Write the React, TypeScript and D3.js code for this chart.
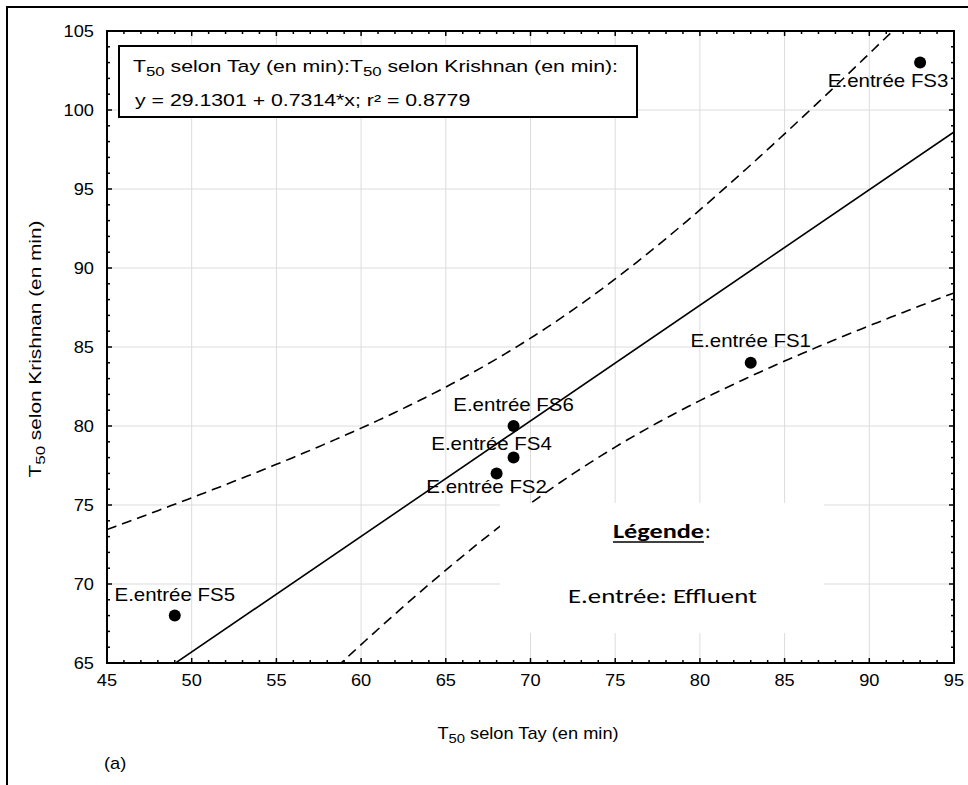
import React from 'react';
import * as d3 from 'd3';

const W = 968;
const H = 785;
const PL = 107, PT = 31, PR = 954, PB = 663;

const pointLabels = ['E.entrée FS1', 'E.entrée FS2', 'E.entrée FS3', 'E.entrée FS4', 'E.entrée FS5', 'E.entrée FS6'];
const tayValues = [83, 68, 93, 69, 49, 69];
const krishnanValues = [84, 77, 103, 78, 68, 80];
const xTickValues = [45, 50, 55, 60, 65, 70, 75, 80, 85, 90, 95];
const yTickValues = [65, 70, 75, 80, 85, 90, 95, 100, 105];
const regIntercept = 29.1301;
const regSlope = 0.7314;
const tCrit = 2.7764; // t(0.975, n-2=4)
const eqLine1a = ' selon Tay (en min):T';
const eqLine1b = ' selon Krishnan (en min):';
const eqLine2 = 'y = 29.1301 + 0.7314*x; r² = 0.8779';
const xTitle = ' selon Tay (en min)';
const yTitle = ' selon Krishnan (en min)';
const legendTitle = 'Légende';
const legendText = 'E.entrée: Effluent';
const panelLabel = '(a)';

// label placement (layout only)
const labelOffsets: [number, number][] = [[0, -16], [-10, 20], [-32, 24], [-22, -8], [0, -15], [0, -15]];

const FONT = 'Arial, "Liberation Sans", Helvetica, sans-serif';
const LFONT = "Carlito, Lato, 'Open Sans', sans-serif";

export default function App() {
  const x = d3.scaleLinear().domain([45, 95]).range([PL, PR]);
  const y = d3.scaleLinear().domain([65, 105]).range([PB, PT]);

  const n = tayValues.length;
  const mx = d3.mean(tayValues) as number;
  const sxx = d3.sum(tayValues, (v) => (v - mx) * (v - mx));
  const sse = d3.sum(tayValues, (v, i) => {
    const r = krishnanValues[i] - (regIntercept + regSlope * v);
    return r * r;
  });
  const s = Math.sqrt(sse / (n - 2));
  const fit = (v: number) => regIntercept + regSlope * v;
  const hw = (v: number) => tCrit * s * Math.sqrt(1 / n + ((v - mx) * (v - mx)) / sxx);
  const xs = d3.range(45, 95.001, 0.25);
  const upperPath = d3.line<number>().x((v) => x(v)).y((v) => y(fit(v) + hw(v)))(xs) as string;
  const lowerPath = d3.line<number>().x((v) => x(v)).y((v) => y(fit(v) - hw(v)))(xs) as string;
  const regPath = d3.line<number>().x((v) => x(v)).y((v) => y(fit(v)))([45, 95]) as string;

  const xMinor = d3.range(45, 95.001, 1);
  const yMinor = d3.range(65, 105.001, 1);
  const major = 5, minor = 3;

  return (
    <svg width={W} height={H} style={{ position: 'absolute', left: 0, top: 0, background: '#fff' }} fontFamily={FONT}>
      <rect x={0} y={0} width={W} height={H} fill="#fff" />
      {/* outer frame (left + top) */}
      <line x1={7} y1={6} x2={7} y2={H} stroke="#000" strokeWidth={2} />
      <line x1={6} y1={7} x2={W} y2={7} stroke="#000" strokeWidth={2} />

      <defs>
        <clipPath id="plotClip">
          <rect x={PL} y={PT} width={PR - PL} height={PB - PT} />
        </clipPath>
      </defs>

      {/* grid */}
      {xTickValues.slice(1, -1).map((v) => (
        <line key={'gx' + v} x1={x(v)} x2={x(v)} y1={PT} y2={PB} stroke="#dcdcdc" strokeWidth={1} />
      ))}
      {yTickValues.slice(1, -1).map((v) => (
        <line key={'gy' + v} x1={PL} x2={PR} y1={y(v)} y2={y(v)} stroke="#dcdcdc" strokeWidth={1} />
      ))}

      <g clipPath="url(#plotClip)">
        <path d={regPath} fill="none" stroke="#000" strokeWidth={1.6} />
        <path d={upperPath} fill="none" stroke="#000" strokeWidth={1.6} strokeDasharray="10,6" />
        <path d={lowerPath} fill="none" stroke="#000" strokeWidth={1.6} strokeDasharray="10,6" />
      </g>

      {/* legend white box */}
      <rect x={500} y={503} width={324} height={130} fill="#fff" />
      <text x={613} y={538} fontFamily={LFONT} fontWeight="bold" fontSize={21} textLength={91} lengthAdjust="spacingAndGlyphs">{legendTitle}</text>
      <line x1={613} x2={704} y1={542} y2={542} stroke="#000" strokeWidth={1.6} />
      <text x={705} y={538} fontFamily={LFONT} fontSize={21}>:</text>
      <text x={568} y={603} fontFamily={LFONT} fontWeight={400} fontSize={21} textLength={189} lengthAdjust="spacingAndGlyphs">{legendText}</text>

      {/* points */}
      {tayValues.map((v, i) => (
        <circle key={'p' + i} cx={x(v)} cy={y(krishnanValues[i])} r={6} fill="#000" />
      ))}
      {tayValues.map((v, i) => (
        <text key={'l' + i} transform={`translate(${x(v) + labelOffsets[i][0]},${y(krishnanValues[i]) + labelOffsets[i][1]}) scale(1.17,1)`} textAnchor="middle" fontSize={17.5} fill="#000">
          {pointLabels[i]}
        </text>
      ))}

      {/* plot frame */}
      <rect x={PL} y={PT} width={PR - PL} height={PB - PT} fill="none" stroke="#000" strokeWidth={2} />

      {/* ticks */}
      {xMinor.map((v) => {
        const len = v % 5 === 0 ? major : minor;
        return (
          <g key={'tx' + v}>
            <line x1={x(v)} x2={x(v)} y1={PB} y2={PB - len} stroke="#000" strokeWidth={1.5} />
            <line x1={x(v)} x2={x(v)} y1={PT} y2={PT + len} stroke="#000" strokeWidth={1.5} />
          </g>
        );
      })}
      {yMinor.map((v) => {
        const len = v % 5 === 0 ? major : minor;
        return (
          <g key={'ty' + v}>
            <line x1={PL} x2={PL + len} y1={y(v)} y2={y(v)} stroke="#000" strokeWidth={1.5} />
            <line x1={PR} x2={PR - len} y1={y(v)} y2={y(v)} stroke="#000" strokeWidth={1.5} />
          </g>
        );
      })}

      {/* tick labels */}
      {xTickValues.map((v) => (
        <text key={'xl' + v} transform={`translate(${x(v)},${PB + 23}) scale(1.14,1)`} textAnchor="middle" fontSize={16}>
          {v}
        </text>
      ))}
      {yTickValues.map((v) => (
        <text key={'yl' + v} transform={`translate(${PL - 13},${y(v) + 6}) scale(1.14,1)`} textAnchor="end" fontSize={16}>
          {v}
        </text>
      ))}

      {/* axis titles */}
      <text transform={`translate(528,739) scale(1.14,1)`} textAnchor="middle" fontSize={16}>
        T<tspan fontSize={13} dy={4}>50</tspan>
        <tspan dy={-4}>{xTitle}</tspan>
      </text>
      <text transform={`translate(41,349) rotate(-90) scale(1.3,1)`} textAnchor="middle" fontSize={16}>
        T<tspan fontSize={13} dy={4}>50</tspan>
        <tspan dy={-4}>{yTitle}</tspan>
      </text>
      <text transform={`translate(104,769) scale(1.14,1)`} fontSize={16}>{panelLabel}</text>

      {/* equation box */}
      <rect x={119} y={46} width={518} height={71} fill="#fff" stroke="#000" strokeWidth={2} />
      <text transform={`translate(133,72) scale(1.29,1)`} fontSize={16.5}>
        T<tspan fontSize={13} dy={4}>50</tspan>
        <tspan dy={-4}>{eqLine1a}</tspan>
        <tspan fontSize={13} dy={4}>50</tspan>
        <tspan dy={-4}>{eqLine1b}</tspan>
      </text>
      <text transform={`translate(135,106) scale(1.29,1)`} fontSize={16.5}>{eqLine2}</text>
    </svg>
  );
}
